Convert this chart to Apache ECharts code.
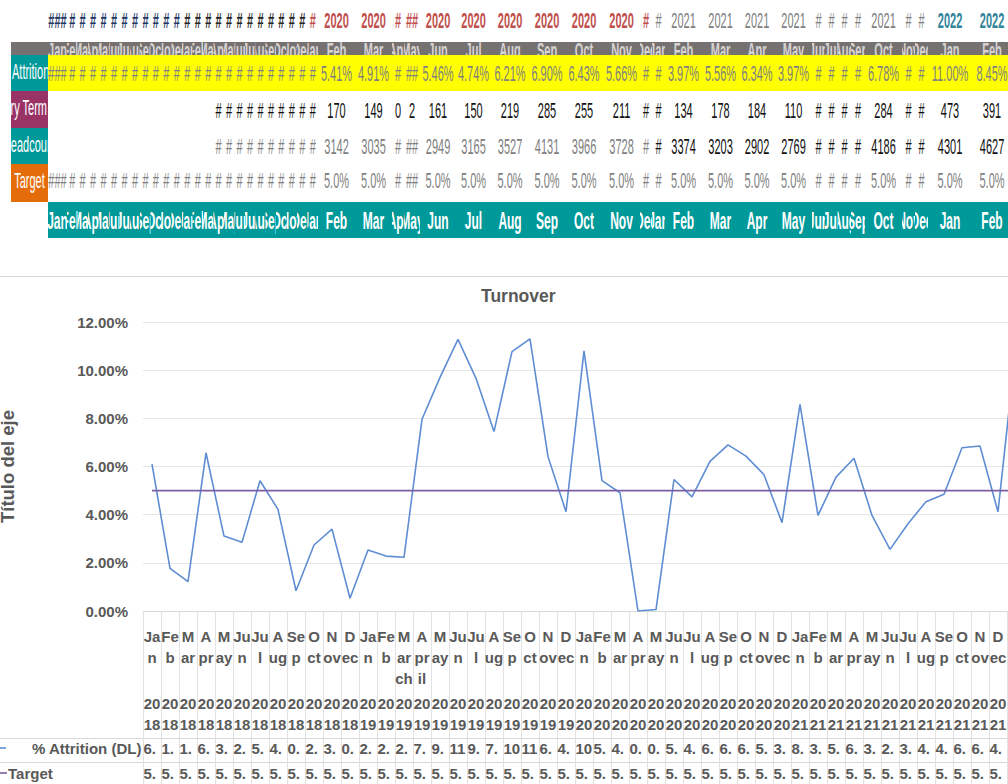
<!DOCTYPE html>
<html>
<head>
<meta charset="utf-8">
<title>Turnover</title>
<script src="https://cdn.jsdelivr.net/npm/echarts@6/dist/echarts.min.js"></script>
<style>
  html, body { margin: 0; padding: 0; width: 1008px; height: 784px; overflow: hidden; background: #ffffff; }
  #sheet { position: absolute; left: 0; top: 0; width: 2100px; height: 240px; transform: scaleX(0.5); transform-origin: 0 0; font-family: "Liberation Sans", Arial, sans-serif; }
  #sheet .c { position: absolute; overflow: hidden; white-space: nowrap; text-align: center; box-sizing: border-box; }
  #sheet .t { position: absolute; left: 0; right: 0; white-space: nowrap; }
  #rule { position: absolute; left: 0; top: 276px; width: 1008px; height: 1px; background: #D9D9D9; }
  #chart { position: absolute; left: 0; top: 276px; width: 1090px; height: 508px; }
</style>
</head>
<body>
<div id="sheet"></div>
<div id="rule"></div>
<div id="chart"></div>
<script>
// ---------- data ----------
const categories = [
  'Jan 2018', 'Feb 2018', 'Mar 2018', 'Apr 2018', 'May 2018', 'Jun 2018', 'Jul 2018', 'Aug 2018', 'Sep 2018', 'Oct 2018', 'Nov 2018', 'Dec 2018',
  'Jan 2019', 'Feb 2019', 'March 2019', 'April 2019', 'May 2019', 'Jun 2019', 'Jul 2019', 'Aug 2019', 'Sep 2019', 'Oct 2019', 'Nov 2019', 'Dec 2019',
  'Jan 2020', 'Feb 2020', 'Mar 2020', 'Apr 2020', 'May 2020', 'Jun 2020', 'Jul 2020', 'Aug 2020', 'Sep 2020', 'Oct 2020', 'Nov 2020', 'Dec 2020',
  'Jan 2021', 'Feb 2021', 'Mar 2021', 'Apr 2021', 'May 2021', 'Jun 2021', 'Jul 2021', 'Aug 2021', 'Sep 2021', 'Oct 2021', 'Nov 2021', 'Dec 2021',
  'Jan 2022', 'Feb 2022'
];

// % Attrition (DL), in percent
const attrition = [
  6.10, 1.77, 1.22, 6.57, 3.11, 2.85, 5.41, 4.22, 0.84, 2.74, 3.40, 0.53,
  2.53, 2.28, 2.23, 7.96, 9.70, 11.28, 9.66, 7.45, 10.77, 11.30, 6.41, 4.12,
  10.80, 5.41, 4.91, 0.00, 0.06, 5.46, 4.74, 6.21, 6.90, 6.43, 5.66, 3.67,
  8.58, 3.97, 5.56, 6.34, 3.97, 2.56, 3.62, 4.54, 4.85, 6.78, 6.85, 4.12,
  11.00, 8.45
];

// Target, in percent
const target = [
  5.0, 5.0, 5.0, 5.0, 5.0, 5.0, 5.0, 5.0, 5.0, 5.0, 5.0, 5.0,
  5.0, 5.0, 5.0, 5.0, 5.0, 5.0, 5.0, 5.0, 5.0, 5.0, 5.0, 5.0,
  5.0, 5.0, 5.0, 5.0, 5.0, 5.0, 5.0, 5.0, 5.0, 5.0, 5.0, 5.0,
  5.0, 5.0, 5.0, 5.0, 5.0, 5.0, 5.0, 5.0, 5.0, 5.0, 5.0, 5.0,
  5.0, 5.0
];

// Voluntary terminations per month (null = no entry)
const terminations = [
  null, null, null, null, null, null, null, null, null, null, null, null,
  null, null, null, 231, 286, 338, 295, 231, 339, 362, 208, 132,
  340, 170, 149, 0, 2, 161, 150, 219, 285, 255, 211, 132,
  300, 134, 178, 184, 110, 72, 109, 150, 179, 284, 288, 175,
  473, 391
];

// Headcount per month (null = no entry)
const headcount = [
  null, null, null, null, null, null, null, null, null, null, null, null,
  null, null, null, 2900, 2950, 3000, 3050, 3100, 3150, 3200, 3250, 3200,
  3150, 3142, 3035, 3020, 3080, 2949, 3165, 3527, 4131, 3966, 3728, 3600,
  3500, 3374, 3203, 2902, 2769, 2800, 3010, 3300, 3690, 4186, 4200, 4250,
  4301, 4627
];

const rowTitles = ['% Attrition', 'Voluntary Term', 'Headcount', 'Target'];
const seriesNames = ['% Attrition (DL)', 'Target'];
const chartTitle = 'Turnover';
const yAxisTitle = 'Título del eje';

// ---------- spreadsheet block above the chart ----------
const SQ = 0.5;                        // horizontal squeeze of the sheet block
const FAM = '"Liberation Sans", Arial, sans-serif';
const colWidths = [19].concat(new Array(24).fill(10.46),
  [37, 37, 12, 16, 36, 35, 38, 36, 38, 37, 12, 13, 37, 37, 36, 37, 13, 13, 13, 14, 37, 13, 13, 44, 40]);
const firstColX = 48;
const colX = [];
colWidths.reduce((x, w) => { colX.push(x); return x + w; }, firstColX);
const sheetRight = colX[colX.length - 1] + colWidths[colWidths.length - 1];

const sheet = document.getElementById('sheet');
const measureCtx = document.createElement('canvas').getContext('2d');

function box(x, y, w, h, bg) {
  const d = document.createElement('div');
  d.className = 'c';
  d.style.left = (x / SQ) + 'px';
  d.style.top = y + 'px';
  d.style.width = (w / SQ) + 'px';
  d.style.height = h + 'px';
  if (bg) d.style.background = bg;
  sheet.appendChild(d);
  return d;
}

function cellText(d, text, font, color, lineH, dy, align) {
  const t = document.createElement('div');
  t.className = 't';
  t.style.top = dy + 'px';
  t.style.height = lineH + 'px';
  t.style.lineHeight = lineH + 'px';
  t.style.font = font;
  t.style.color = color;
  if (align === 'left') { t.style.textAlign = 'left'; t.style.left = '2px'; t.style.right = 'auto'; }
  else if (align === 'right') { t.style.textAlign = 'right'; t.style.left = 'auto'; t.style.right = '2px'; }
  else { t.style.textAlign = 'center'; t.style.left = '-100px'; t.style.right = '-100px'; }
  t.textContent = text;
  d.appendChild(t);
}

// numbers that do not fit their cell are shown as a '#' fill (cellW in screen px)
function fitNumber(text, font, cellW) {
  measureCtx.font = font;
  if (measureCtx.measureText(text).width * SQ <= cellW - 2) return text;
  return '#'.repeat(Math.max(1, Math.floor((cellW - 5) / 4.6)));
}

const yearOf = c => c.split(' ')[1];
const monthOf = c => c.split(' ')[0].slice(0, 3);
const yearStyle = {
  '2018': { color: '#1F3864', weight: 'bold' },
  '2019': { color: '#262626', weight: 'bold' },
  '2020': { color: '#C0504D', weight: 'bold' },
  '2021': { color: '#808080', weight: 'normal' },
  '2022': { color: '#31849B', weight: 'bold' }
};
const F = 22;

// backgrounds
box(11, 42, sheetRight - 11, 13, '#767171');
box(firstColX, 55, sheetRight - firstColX, 36, '#FFFF00');
box(firstColX, 202, sheetRight - firstColX, 36, '#009999');

// row titles
const titleCells = [
  { y: 55, h: 36, bg: '#009999', align: 'left' },
  { y: 91, h: 37, bg: '#993366', align: 'right' },
  { y: 128, h: 36, bg: '#009999', align: 'center' },
  { y: 164, h: 38, bg: '#E46C0A', align: 'center' }
];
rowTitles.forEach((txt, i) => {
  const r = titleCells[i];
  const d = box(11, r.y, 37, r.h, r.bg);
  const shown = i === 0 ? txt.replace('% ', '') : txt;
  cellText(d, shown, F + 'px ' + FAM, '#FFFFFF', r.h, 4, r.align);
});

categories.forEach((cat, i) => {
  const x = colX[i], w = colWidths[i];
  const yr = yearOf(cat);
  const plain = F + 'px ' + FAM;
  // year
  {
    const st = yearStyle[yr];
    const font = st.weight + ' ' + F + 'px ' + FAM;
    const d = box(x, 4, w, 37);
    cellText(d, fitNumber(yr, font, w), font, st.color, 36, 4);
  }
  // month header strip (clipped)
  {
    const d = box(x, 42, w, 13);
    cellText(d, monthOf(cat), 'bold ' + F + 'px ' + FAM, '#D6D3D3', 24, -4);
  }
  // attrition
  {
    const d = box(x, 55, w, 36);
    cellText(d, fitNumber(attrition[i].toFixed(2) + '%', plain, w), plain, '#808080', 36, 6);
  }
  // terminations
  if (terminations[i] !== null) {
    const d = box(x, 91, w, 37);
    cellText(d, fitNumber(String(terminations[i]), plain, w), plain, '#111111', 37, 7);
  }
  // headcount
  if (headcount[i] !== null) {
    const d = box(x, 128, w, 36);
    const col = Number(yr) <= 2020 ? '#808080' : '#111111';
    cellText(d, fitNumber(String(headcount[i]), plain, w), plain, col, 36, 6);
  }
  // target
  {
    const d = box(x, 164, w, 38);
    cellText(d, fitNumber(target[i].toFixed(1) + '%', plain, w), plain, '#808080', 38, 4);
  }
  // month band
  {
    const d = box(x, 202, w, 36);
    cellText(d, monthOf(cat), 'bold 24px ' + FAM, '#FFFFFF', 36, 5);
  }
});

// ---------- chart ----------
const GRAY = '#595959';
const LABEL_FONT = 'bold 15px ' + FAM;
const BLUE = '#5E8DD3';
const PURPLE = '#7B5FA5';

function clipTo(text, width) {
  measureCtx.font = LABEL_FONT;
  let s = text;
  while (s.length > 0 && measureCtx.measureText(s).width > width) s = s.slice(0, -1);
  return s;
}

const labelBase = { fontFamily: FAM, fontWeight: 'bold', fontSize: 15, color: GRAY };

const chart = echarts.init(document.getElementById('chart'), null, { renderer: 'svg' });

const tableRow = (values, fmt, margin) => ({
  type: 'category',
  data: categories,
  position: 'bottom',
  gridIndex: 0,
  axisLine: { show: false },
  axisTick: { show: false },
  axisLabel: Object.assign({}, labelBase, {
    interval: 0,
    margin: margin,
    verticalAlign: 'middle',
    formatter: (v, i) => '{v|' + clipTo(fmt(values[i]), 18) + '}',
    rich: { v: Object.assign({}, labelBase, { width: 17, align: 'left' }) }
  })
});

const option = {
  animation: false,
  title: {
    text: chartTitle,
    left: 481,
    top: 11,
    padding: 0,
    textStyle: { fontFamily: FAM, fontWeight: 'bold', fontSize: 17.5, color: GRAY }
  },
  grid: { left: 143, top: 46, width: 900, height: 289, containLabel: false, outerBoundsMode: 'none' },
  xAxis: [
    {
      type: 'category',
      data: categories,
      position: 'bottom',
      boundaryGap: true,
      axisLine: { lineStyle: { color: '#D9D9D9' } },
      axisTick: { show: true, interval: 0, length: 173, lineStyle: { color: '#E2E2E2' } },
      axisLabel: Object.assign({}, labelBase, {
        interval: 0, margin: 15, lineHeight: 21, width: 18.7, overflow: 'breakAll',
        verticalAlign: 'top',
        formatter: v => v.split(' ')[0]
      })
    },
    {
      type: 'category',
      data: categories,
      position: 'bottom',
      axisLine: { show: false },
      axisTick: { show: false },
      axisLabel: Object.assign({}, labelBase, {
        interval: 0, margin: 82, lineHeight: 21, width: 18.7, overflow: 'breakAll',
        verticalAlign: 'top',
        formatter: v => v.split(' ')[1]
      })
    },
    tableRow(attrition, v => v.toFixed(2) + '%', 137),
    tableRow(target, v => v.toFixed(2) + '%', 162)
  ],
  yAxis: {
    type: 'value',
    min: 0, max: 12, interval: 2,
    axisLine: { show: false },
    axisTick: { show: false },
    splitLine: { lineStyle: { color: '#E6E6E6', width: 1 } },
    axisLabel: Object.assign({}, labelBase, { margin: 15, formatter: v => v.toFixed(2) + '%' }),
    name: yAxisTitle,
    nameLocation: 'middle',
    nameRotate: 90,
    nameGap: 126,
    nameTextStyle: { fontFamily: FAM, fontWeight: 'bold', fontSize: 18.5, color: GRAY }
  },
  series: [
    {
      name: seriesNames[0], type: 'line', data: attrition, xAxisIndex: 0,
      showSymbol: false, symbol: 'none',
      lineStyle: { color: BLUE, width: 1.6 }, itemStyle: { color: BLUE }
    },
    {
      name: seriesNames[1], type: 'line', data: target, xAxisIndex: 0,
      showSymbol: false, symbol: 'none',
      lineStyle: { color: PURPLE, width: 1.6 }, itemStyle: { color: PURPLE }
    }
  ],
  graphic: [
    { type: 'line', shape: { x1: 0, y1: 462.5, x2: 1043, y2: 462.5 }, style: { stroke: '#D9D9D9', lineWidth: 1 } },
    { type: 'line', shape: { x1: 0, y1: 486.5, x2: 1043, y2: 486.5 }, style: { stroke: '#D9D9D9', lineWidth: 1 } },
    { type: 'line', shape: { x1: 0, y1: 472, x2: 6, y2: 472 }, style: { stroke: BLUE, lineWidth: 1.6 } },
    { type: 'text', x: 32, y: 472, style: { text: seriesNames[0], font: LABEL_FONT, fill: GRAY, verticalAlign: 'middle' } },
    { type: 'line', shape: { x1: 0, y1: 497, x2: 7, y2: 497 }, style: { stroke: PURPLE, lineWidth: 1.6 } },
    { type: 'text', x: 8, y: 497, style: { text: seriesNames[1], font: LABEL_FONT, fill: GRAY, verticalAlign: 'middle' } }
  ]
};

chart.setOption(option);
</script>
</body>
</html>
